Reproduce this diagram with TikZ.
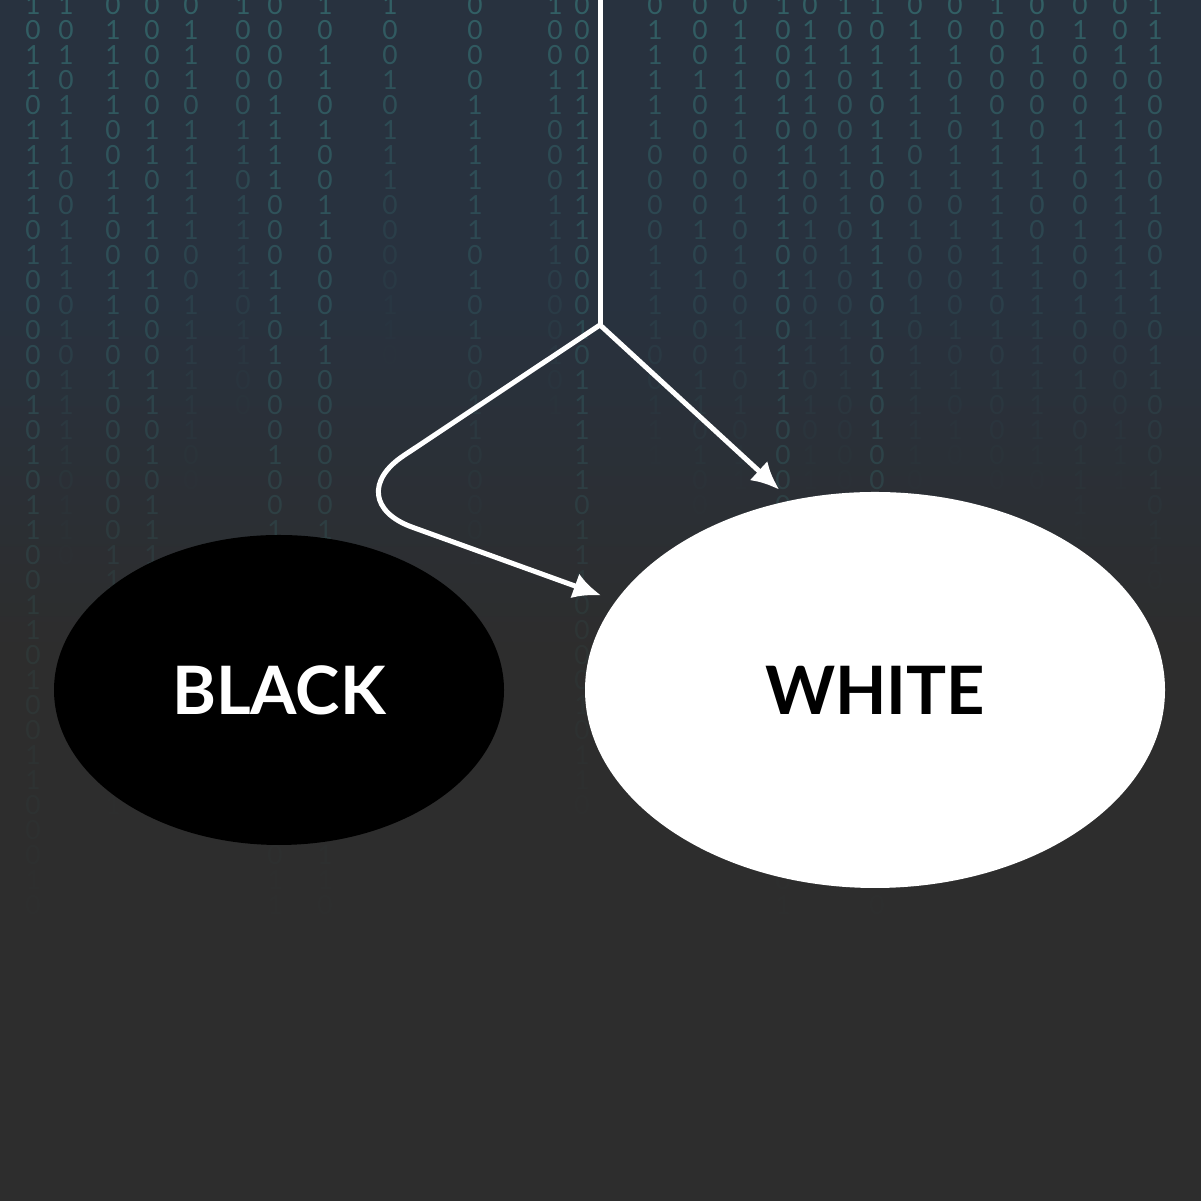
\documentclass[tikz,border=0pt]{standalone}
\usepackage{fontspec}
\setmainfont{Lato}
\usetikzlibrary{arrows.meta,shapes.geometric}
\definecolor{bgtop}{HTML}{28323F}
\definecolor{bgbottom}{HTML}{2D2D2D}
\definecolor{bitcol}{HTML}{3C8C8A}
\tikzset{
  bit/.style={text=bitcol,font=\fontsize{7.5}{8}\selectfont,inner sep=0pt},
  oval/.style={ellipse,inner sep=0pt,font=\bfseries\fontsize{19}{23}\selectfont},
  wire/.style={draw=white,line width=0.5mm},
  tip/.style={-{Latex[length=2.8mm,width=2.6mm]}},
}
\begin{document}
\begin{tikzpicture}[x=0.1mm,y=0.1mm]
    \useasboundingbox (0,0) rectangle (1201,1201);
    %% background
    \fill[bgbottom] (0,0) rectangle (1201,1201);
    \fill[bgtop] (0,900) rectangle (1201,1201);
    \shade[top color=bgtop,bottom color=bgbottom] (0,550) rectangle (1201,900.5);
    \pgfmathsetseed{7}
    \foreach \cx/\last in {33/38,66/23,113/34,152/34,191/20,243/17,275/38,325/38,
                           390/14,475/23,555/17,582/34,655/19,700/21,740/20,783/38,
                           810/20,845/20,877/38,915/20,955/19,997/20,1037/20,
                           1080/22,1120/20,1155/24}{
      \foreach \r in {0,...,\last}{
        \pgfmathrandominteger{\b}{0}{1}
        \pgfmathsetmacro{\op}{0.5*(1-\r/(\last+1))^1.4}
        \node[bit,opacity=\op] at (\cx,1196-\r*25) {\b};
      }
    }
    %% ovals
    \node (black) at (279,511) [oval,fill=black,text=white,minimum width=4.5cm,minimum height=3.1cm] {BLACK};
    \node (white) at (875,511) [oval,fill=white,text=black,minimum width=5.8cm,minimum height=3.96cm] {WHITE};
    \coordinate (top) at (600,1201);
    \coordinate (split) at (600,876);
    \coordinate (bend) at (337,701);
    \draw [wire] (top) -- (split);
    \draw [wire,tip,shorten >=1.5mm] (split) -- (white.114);
    \draw [wire,tip,shorten >=1.5mm,rounded corners=8mm] (split) -- (bend) -- (white.161);
    %
\end{tikzpicture}
\end{document}
